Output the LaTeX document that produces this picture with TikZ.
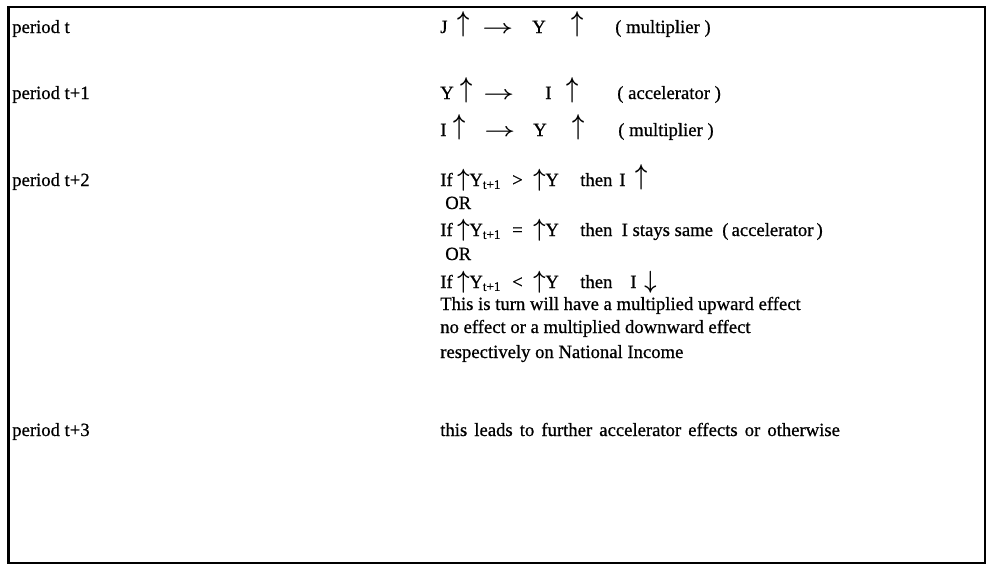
\documentclass[tikz,border=0pt]{standalone}
\usepackage{fontspec}
\setmainfont{Liberation Serif}[RawFeature={embolden=0.7}]
\usepackage{tikz}
\usetikzlibrary{positioning}

\begin{document}
\begin{tikzpicture}[
    x=0.75pt, y=-0.75pt,
    txt/.style={anchor=base west, inner sep=0pt, font=\fontsize{14}{17}\selectfont\boldmath},
    period/.style={txt},
    up/.style={txt, yshift=1.5pt},
    frame/.style={draw, line width=1pt}
]
    \useasboundingbox (0,0) rectangle (994,571);
    \draw[frame] (8,7) rectangle (985,563);
    \draw[line width=2.2pt] (8.5,7) -- (8.5,563);

    % period t
    \node[period] (pt) at (12,33) {period t};
    \node[txt] (tJ) at (440,33) {J};
    \node[up] (tJup) at (457,33) {\scalebox{1.1}[1.5]{$\uparrow$}};
    \node[txt] (tto) at (482,33) {\scalebox{1.4}[1]{$\rightarrow$}};
    \node[txt] (tY) at (532,33) {Y};
    \node[up] (tYup) at (571,33) {\scalebox{1.1}[1.5]{$\uparrow$}};
    \node[txt] (tmult) at (615,33) {( multiplier )};

    % period t+1
    \node[period] (pt1) at (12,99) {period t+1};
    \node[txt] (aY) at (440,99) {Y};
    \node[up] (aYup) at (460,99) {\scalebox{1.1}[1.5]{$\uparrow$}};
    \node[txt] (ato) at (483,99) {\scalebox{1.4}[1]{$\rightarrow$}};
    \node[txt] (aI) at (545,99) {I};
    \node[up] (aIup) at (566,99) {\scalebox{1.1}[1.5]{$\uparrow$}};
    \node[txt] (aacc) at (617,99) {( accelerator )};
    \node[txt] (bI) at (440,136) {I};
    \node[up] (bIup) at (453,136) {\scalebox{1.1}[1.5]{$\uparrow$}};
    \node[txt] (bto) at (484,136) {\scalebox{1.4}[1]{$\rightarrow$}};
    \node[txt] (bY) at (533,136) {Y};
    \node[up] (bYup) at (572,136) {\scalebox{1.1}[1.5]{$\uparrow$}};
    \node[txt] (bmult) at (618,136) {( multiplier )};

    % period t+2
    \node[period] (pt2) at (12,186) {period t+2};
    \node[txt] (cif) at (440,186) {If};
    \node[txt] (cY1) at (457,186) {\scalebox{1.1}[1.3]{$\uparrow$}Y\textsubscript{t+1}};
    \node[txt] (cgt) at (512,186) {>};
    \node[txt] (cY) at (533,186) {\scalebox{1.1}[1.3]{$\uparrow$}Y};
    \node[txt] (cthen) at (580,186) {then};
    \node[txt] (cI) at (619,186) {I};
    \node[up] (cIup) at (635,186) {\scalebox{1.1}[1.5]{$\uparrow$}};
    \node[txt] (or1) at (445,209) {OR};
    \node[txt] (dif) at (440,236) {If};
    \node[txt] (dY1) at (457,236) {\scalebox{1.1}[1.3]{$\uparrow$}Y\textsubscript{t+1}};
    \node[txt] (deq) at (512,236) {=};
    \node[txt] (dY) at (533,236) {\scalebox{1.1}[1.3]{$\uparrow$}Y};
    \node[txt] (dthen) at (580,236) {then\ \ I stays same};
    \node[txt] (dacc) at (722,236) {(\,accelerator\,)};
    \node[txt] (or2) at (445,260) {OR};
    \node[txt] (eif) at (440,288) {If};
    \node[txt] (eY1) at (457,288) {\scalebox{1.1}[1.3]{$\uparrow$}Y\textsubscript{t+1}};
    \node[txt] (elt) at (512,288) {<};
    \node[txt] (eY) at (533,288) {\scalebox{1.1}[1.3]{$\uparrow$}Y};
    \node[txt] (ethen) at (580,288) {then};
    \node[txt] (eI) at (630,288) {I};
    \node[txt] (eIdown) at (644,288) {\scalebox{1.1}[1.3]{$\downarrow$}};
    \node[txt] (l1) at (440,310) {This is turn will have a multiplied upward effect};
    \node[txt] (l2) at (440,333) {no effect or a multiplied downward effect};
    \node[txt] (l3) at (440,358) {respectively on National Income};

    % period t+3
    \node[period] (pt3) at (12,436) {period t+3};
    \node[txt] (fur) at (440,436) {\spaceskip=0.38em this leads to further accelerator effects or otherwise};
\end{tikzpicture}
\end{document}
